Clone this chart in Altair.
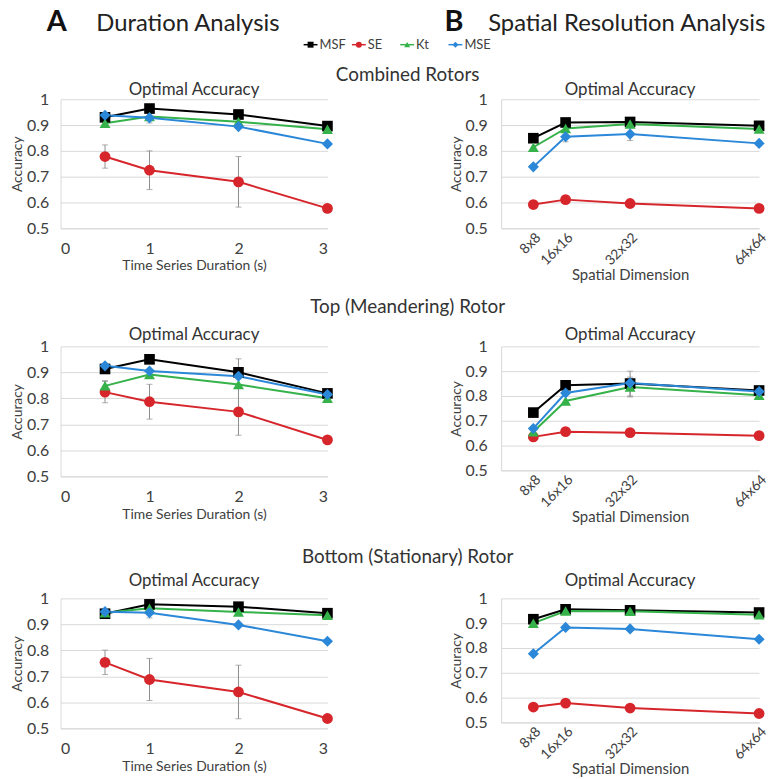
import altair as alt
import pandas as pd

series = ["MSF", "SE", "Kt", "MSE"]
colors = ["#000000", "#d6262b", "#35b24a", "#2b87d8"]
shapes = ["square", "circle", "triangle-up", "diamond"]
sizes = [115, 125, 95, 75]

durations = [0.5, 1, 2, 3]
dims = [8, 16, 32, 64]

# ---- Combined rotors ----
comb_dur = {
    "MSF": [0.930, 0.964, 0.941, 0.896],
    "SE":  [0.778, 0.725, 0.680, 0.577],
    "Kt":  [0.907, 0.933, 0.913, 0.884],
    "MSE": [0.938, 0.928, 0.894, 0.827],
}
comb_dur_err = {
    "MSF": [0, 0, 0, 0],
    "SE":  [0.045, 0.075, 0.098, 0],
    "Kt":  [0.012, 0, 0, 0],
    "MSE": [0, 0.02, 0, 0],
}
comb_dim = {
    "MSF": [0.849, 0.910, 0.912, 0.897],
    "SE":  [0.592, 0.611, 0.596, 0.577],
    "Kt":  [0.814, 0.887, 0.904, 0.885],
    "MSE": [0.738, 0.855, 0.865, 0.829],
}
comb_dim_err = {
    "MSF": [0, 0, 0, 0],
    "SE":  [0, 0, 0, 0],
    "Kt":  [0, 0, 0, 0],
    "MSE": [0, 0.02, 0.025, 0],
}

# ---- Top (meandering) rotor ----
top_dur = {
    "MSF": [0.913, 0.950, 0.900, 0.819],
    "SE":  [0.824, 0.787, 0.748, 0.640],
    "Kt":  [0.848, 0.892, 0.853, 0.800],
    "MSE": [0.925, 0.905, 0.885, 0.815],
}
top_dur_err = {
    "MSF": [0, 0, 0.052, 0],
    "SE":  [0.041, 0.067, 0.090, 0],
    "Kt":  [0.02, 0, 0, 0],
    "MSE": [0, 0, 0, 0],
}
top_dim = {
    "MSF": [0.733, 0.843, 0.850, 0.822],
    "SE":  [0.635, 0.656, 0.652, 0.640],
    "Kt":  [0.656, 0.780, 0.836, 0.803],
    "MSE": [0.669, 0.812, 0.852, 0.818],
}
top_dim_err = {
    "MSF": [0, 0, 0.05, 0],
    "SE":  [0, 0, 0, 0],
    "Kt":  [0, 0, 0.04, 0],
    "MSE": [0, 0, 0, 0],
}

# ---- Bottom (stationary) rotor ----
bot_dur = {
    "MSF": [0.941, 0.977, 0.968, 0.943],
    "SE":  [0.754, 0.688, 0.640, 0.538],
    "Kt":  [0.945, 0.962, 0.948, 0.935],
    "MSE": [0.949, 0.945, 0.898, 0.835],
}
bot_dur_err = {
    "MSF": [0, 0, 0, 0],
    "SE":  [0.047, 0.081, 0.103, 0],
    "Kt":  [0, 0, 0, 0],
    "MSE": [0, 0.02, 0, 0],
}
bot_dim = {
    "MSF": [0.916, 0.956, 0.952, 0.943],
    "SE":  [0.562, 0.578, 0.558, 0.536],
    "Kt":  [0.900, 0.949, 0.948, 0.934],
    "MSE": [0.777, 0.883, 0.877, 0.835],
}
bot_dim_err = {
    "MSF": [0, 0, 0, 0],
    "SE":  [0, 0, 0, 0],
    "Kt":  [0, 0, 0, 0],
    "MSE": [0, 0, 0, 0],
}

FONT = "Lato"
TXT = "#404040"

color_scale = alt.Scale(domain=series, range=colors)
shape_scale = alt.Scale(domain=series, range=shapes)
size_scale = alt.Scale(domain=series, range=sizes)
y_scale = alt.Scale(domain=[0.5, 1], nice=False)


def make_df(xs, vals, errs):
    rows = []
    for k, s in enumerate(series):
        for i, xv in enumerate(xs):
            y = vals[s][i]
            e = errs[s][i]
            rows.append({"x": xv, "y": y, "series": s, "order": k,
                         "err": e, "lo": y - e, "hi": y + e})
    return pd.DataFrame(rows)


def panel(xs, vals, errs, kind, height, oa_offset):
    df = make_df(xs, vals, errs)
    if kind == "dur":
        width = 269
        ypad = 12
        xenc = alt.X("x:Q", scale=alt.Scale(domain=[0, 3], nice=False),
                     axis=alt.Axis(values=[0, 1, 2, 3], title="Time Series Duration (s)",
                                   grid=False, labelPadding=12, titlePadding=3,
                                   labelFontSize=16, titleFontSize=14))
    else:
        width = 260
        ypad = 14
        xenc = alt.X("x:Q", scale=alt.Scale(domain=[0, 64], nice=False),
                     axis=alt.Axis(values=dims, title="Spatial Dimension", grid=False,
                                   labelAngle=-45, labelOverlap=False, labelFontSize=14,
                                   labelExpr="datum.value + 'x' + datum.value",
                                   labelPadding=2, titlePadding=0, titleFontSize=15))
    yaxis = alt.Axis(values=[0.5, 0.6, 0.7, 0.8, 0.9, 1.0], format=".1~f",
                     labelOverlap=False, title="Accuracy", grid=True,
                     labelPadding=ypad, titlePadding=2, labelFontSize=16)
    yenc = alt.Y("y:Q", scale=y_scale, axis=yaxis)
    base = alt.Chart(df)
    err_df = base.transform_filter("datum.err > 0")
    rule = err_df.mark_rule(color="#8c8c8c", strokeWidth=1).encode(
        x=xenc, y=alt.Y("lo:Q", scale=y_scale, axis=yaxis), y2="hi:Q")
    cap_lo = err_df.mark_tick(color="#8c8c8c", thickness=1, size=6, orient="horizontal").encode(
        x=xenc, y=alt.Y("lo:Q", scale=y_scale, axis=yaxis))
    cap_hi = err_df.mark_tick(color="#8c8c8c", thickness=1, size=6, orient="horizontal").encode(
        x=xenc, y=alt.Y("hi:Q", scale=y_scale, axis=yaxis))
    lines = base.mark_line(strokeWidth=2).encode(
        x=xenc, y=yenc,
        color=alt.Color("series:N", scale=color_scale, legend=None),
        detail="series:N",
        order=alt.Order("x:Q"))
    points = base.mark_point(filled=True, opacity=1).encode(
        x=xenc, y=yenc,
        color=alt.Color("series:N", scale=color_scale, legend=None),
        shape=alt.Shape("series:N", scale=shape_scale, legend=None),
        size=alt.Size("series:N", scale=size_scale, legend=None))
    return alt.layer(rule, cap_lo, cap_hi, lines, points).properties(
        width=width, height=height,
        title=alt.TitleParams("Optimal Accuracy", fontSize=17, font=FONT,
                              fontWeight="normal", color="#333333", offset=oa_offset))


def row(title, left, right, title_offset):
    return alt.hconcat(left, right, spacing=116).properties(
        title=alt.TitleParams(title, fontSize=19, font=FONT, fontWeight="normal",
                              color="#333333", anchor="middle", dx=18,
                              offset=title_offset))


# ---- header with panel letters and legend ----
# the header view's origin lines up with the left plot's origin
hdr_df = pd.DataFrame({"series": series, "order": list(range(4))})
hbase = alt.Chart(hdr_df)
legend_x = alt.X("series:N", sort=series, axis=None,
                 scale=alt.Scale(domain=series, range=[252, 398], padding=0))
LEG_Y = 40
leg_line = hbase.mark_point(shape="M-1,0L1,0", filled=False, strokeWidth=1.5,
                            size=196, opacity=1).encode(
    x=legend_x, y=alt.value(LEG_Y),
    color=alt.Color("series:N", scale=color_scale, legend=None))
leg_sym = hbase.mark_point(filled=True, opacity=1, size=36).encode(
    x=legend_x, y=alt.value(LEG_Y),
    color=alt.Color("series:N", scale=color_scale, legend=None),
    shape=alt.Shape("series:N", scale=shape_scale, legend=None))
leg_txt = hbase.mark_text(align="left", baseline="middle", dx=9, fontSize=13,
                          font=FONT, color=TXT).encode(
    x=legend_x, y=alt.value(LEG_Y), text="series:N")

one = pd.DataFrame({"k": [0]})
letter_a = alt.Chart(one).mark_text(text="A", align="left", baseline="alphabetic", fontSize=29,
                                    fontWeight="bold", font=FONT, color="#111111").encode(
    x=alt.value(-14), y=alt.value(26))
title_a = alt.Chart(one).mark_text(text="Duration Analysis", align="left", baseline="alphabetic",
                                   fontSize=24, font=FONT, color="#222222").encode(
    x=alt.value(36), y=alt.value(26))
letter_b = alt.Chart(one).mark_text(text="B", align="left", baseline="alphabetic", fontSize=29,
                                    fontWeight="bold", font=FONT, color="#111111").encode(
    x=alt.value(387), y=alt.value(26))
title_b = alt.Chart(one).mark_text(text="Spatial Resolution Analysis", align="left",
                                   baseline="alphabetic", fontSize=24, font=FONT,
                                   color="#222222").encode(
    x=alt.value(431), y=alt.value(26))

header = alt.layer(letter_a, title_a, letter_b, title_b, leg_line, leg_sym, leg_txt).properties(
    width=660, height=43)

r1 = row("Combined Rotors",
         panel(durations, comb_dur, comb_dur_err, "dur", 130, -8),
         panel(dims, comb_dim, comb_dim_err, "dim", 130, -8), -4)
r2 = row("Top (Meandering) Rotor",
         panel(durations, top_dur, top_dur_err, "dur", 131, -6),
         panel(dims, top_dim, top_dim_err, "dim", 125, -6), 10)
r3 = row("Bottom (Stationary) Rotor",
         panel(durations, bot_dur, bot_dur_err, "dur", 131, 0),
         panel(dims, bot_dim, bot_dim_err, "dim", 125, 0), 6)

upper = alt.vconcat(header, r1, r2, spacing=15)
chart = alt.vconcat(upper, r3, spacing=23).properties(
    padding={"left": 10, "top": 2, "right": 2, "bottom": 1},
    background="white",
).configure_view(stroke=None).configure_axis(
    domainColor="#d9d9d9", gridColor="#d9d9d9", ticks=False,
    labelColor=TXT, labelFontSize=15, labelFont=FONT,
    titleColor=TXT, titleFontSize=14, titleFont=FONT, titleFontWeight="normal",
)

chart.save("out.html", embed_options={"renderer": "svg", "actions": False})
